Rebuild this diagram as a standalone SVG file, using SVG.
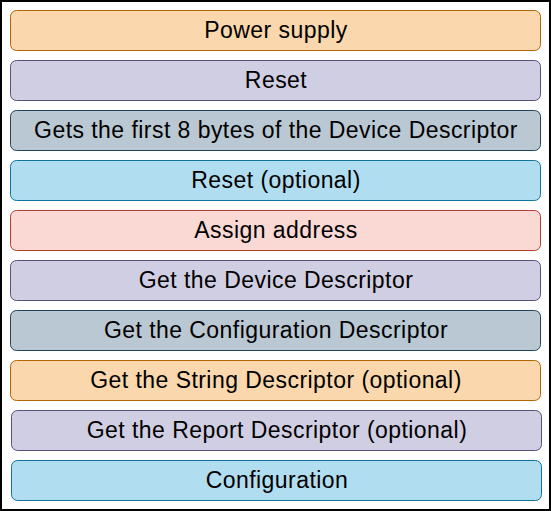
<svg xmlns="http://www.w3.org/2000/svg" width="551" height="511" viewBox="0 0 551 511">
<style>
rect.n{stroke-width:1}
.o{fill:#fad7ac;stroke:#b46504}
.p{fill:#d0cee2;stroke:#56517e}
.g{fill:#bac8d3;stroke:#23445d}
.b{fill:#b1ddf0;stroke:#10739e}
.r{fill:#fad9d5;stroke:#ae4132}
text{font-family:"Liberation Sans",Arial,sans-serif;font-size:23px;letter-spacing:0.45px;fill:#000;text-anchor:middle}
</style>
<rect x="1" y="1" width="549" height="509" fill="#fff" stroke="#000" stroke-width="2"/>
<g id="connectors"/>
<g id="n1"><rect class="n o" x="10.5" y="10.5" width="530" height="40" rx="6"/><text x="276" y="37.5">Power supply</text></g>
<g id="n2"><rect class="n p" x="10.5" y="60.5" width="530" height="40" rx="6"/><text x="276" y="87.5">Reset</text></g>
<g id="n3"><rect class="n g" x="10.5" y="110.5" width="530" height="40" rx="6"/><text x="276" y="137.5">Gets the first 8 bytes of the Device Descriptor</text></g>
<g id="n4"><rect class="n b" x="10.5" y="160.5" width="530" height="40" rx="6"/><text x="276" y="187.5">Reset (optional)</text></g>
<g id="n5"><rect class="n r" x="10.5" y="210.5" width="530" height="40" rx="6"/><text x="276" y="237.5">Assign address</text></g>
<g id="n6"><rect class="n p" x="10.5" y="260.5" width="530" height="40" rx="6"/><text x="276" y="287.5">Get the Device Descriptor</text></g>
<g id="n7"><rect class="n g" x="10.5" y="310.5" width="530" height="40" rx="6"/><text x="276" y="337.5">Get the Configuration Descriptor</text></g>
<g id="n8"><rect class="n o" x="10.5" y="360.5" width="530" height="40" rx="6"/><text x="276" y="387.5">Get the String Descriptor (optional)</text></g>
<g id="n9"><rect class="n p" x="11.5" y="410.5" width="530" height="40" rx="6"/><text x="277" y="437.5">Get the Report Descriptor (optional)</text></g>
<g id="n10"><rect class="n b" x="11.5" y="460.5" width="530" height="40" rx="6"/><text x="277" y="487.5">Configuration</text></g>
</svg>
